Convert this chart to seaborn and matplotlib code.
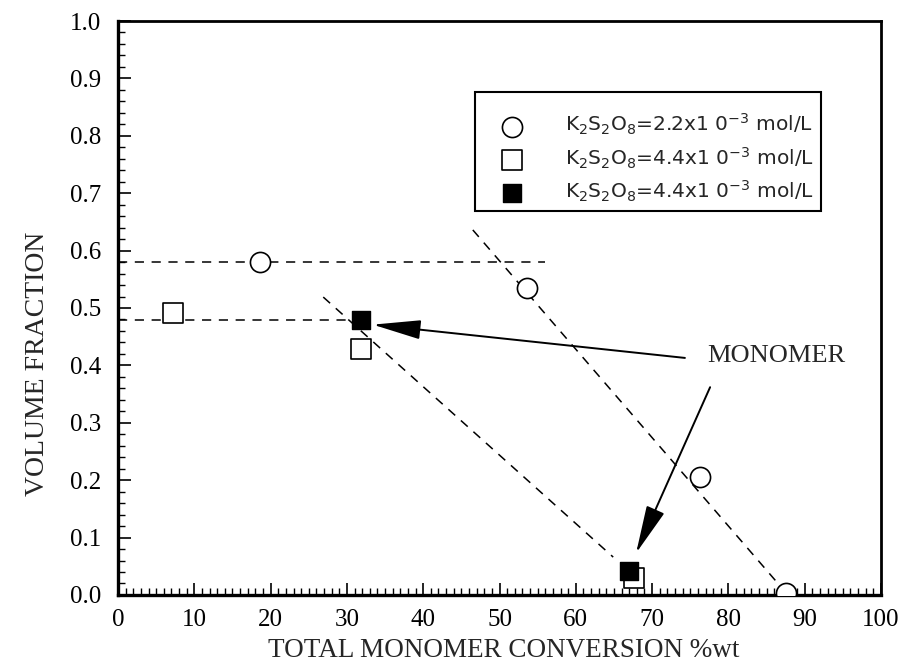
import matplotlib
matplotlib.use('Agg')
import matplotlib.pyplot as plt
import seaborn as sns
import pandas as pd
from matplotlib.ticker import MultipleLocator, FormatStrFormatter

# values
circ_x = [18.6, 53.6, 76.3, 87.5]
circ_y = [0.580, 0.535, 0.206, 0.003]
sq_x = [7.2, 31.8, 67.6]
sq_y = [0.491, 0.428, 0.030]
fsq_x = [31.8, 67.0]
fsq_y = [0.479, 0.042]

# dashed guide lines (end points)
guide_x = [[0, 56.0], [0, 31.8], [46.5, 87.8], [26.9, 64.9]]
guide_y = [[0.580, 0.580], [0.479, 0.479], [0.636, 0.0], [0.519, 0.066]]

labels = [r'K$_2$S$_2$O$_8$=2.2x1 0$^{-3}$ mol/L',
          r'K$_2$S$_2$O$_8$=4.4x1 0$^{-3}$ mol/L',
          r'K$_2$S$_2$O$_8$=4.4x1 0$^{-3}$ mol/L']

# arrows: tail -> tip
arrow_tail = [(74.3, 0.413), (77.6, 0.362)]
arrow_tip = [(33.4, 0.471), (67.9, 0.073)]

sns.set_theme(style='ticks')
plt.rcParams['font.family'] = ['Liberation Serif', 'DejaVu Serif']
plt.rcParams['mathtext.fontset'] = 'dejavusans'

fig = plt.figure(figsize=(9.05, 6.71), dpi=100)
ax = fig.add_axes([0.1304, 0.1133, 0.8431, 0.8554])

for gx, gy in zip(guide_x, guide_y):
    sns.lineplot(x=gx, y=gy, ax=ax, color='black', lw=1.1, linestyle=(0, (6, 5)),
                 estimator=None, sort=False)

df_c = pd.DataFrame({'x': circ_x, 'y': circ_y})
df_s = pd.DataFrame({'x': sq_x, 'y': sq_y})
df_f = pd.DataFrame({'x': fsq_x, 'y': fsq_y})

sns.scatterplot(data=df_c, x='x', y='y', ax=ax, marker='o', s=210, facecolor='white',
                edgecolor='black', linewidth=1.2, label=labels[0], zorder=3)
sns.scatterplot(data=df_s, x='x', y='y', ax=ax, marker='s', s=200, facecolor='white',
                edgecolor='black', linewidth=1.2, label=labels[1], zorder=3)
sns.scatterplot(data=df_f, x='x', y='y', ax=ax, marker='s', s=150, facecolor='black',
                edgecolor='black', linewidth=1.0, label=labels[2], zorder=4)

for tail, tip in zip(arrow_tail, arrow_tip):
    ax.annotate('', xy=tip, xytext=tail,
                arrowprops=dict(arrowstyle='-|>,head_length=1.5,head_width=0.3',
                                color='black', lw=1.4, mutation_scale=20,
                                shrinkA=0, shrinkB=0))

ax.text(77.2, 0.416, 'MONOMER', fontsize=19, va='center', ha='left')

ax.set_xlim(0, 100)
ax.set_ylim(0, 1.0)
ax.xaxis.set_major_locator(MultipleLocator(10))
ax.xaxis.set_minor_locator(MultipleLocator(1))
ax.yaxis.set_major_locator(MultipleLocator(0.1))
ax.yaxis.set_minor_locator(MultipleLocator(0.02))
ax.yaxis.set_major_formatter(FormatStrFormatter('%.1f'))
ax.tick_params(which='both', direction='in', top=False, right=False, labelsize=18,
               colors='black')
ax.tick_params(which='major', length=9, width=1.2)
ax.tick_params(which='minor', length=5, width=1.0)
ax.tick_params(axis='y', pad=12)
ax.tick_params(axis='x', pad=10)

for side in ['left', 'bottom']:
    ax.spines[side].set_linewidth(2.4)
for side in ['top', 'right']:
    ax.spines[side].set_linewidth(2.0)
for sp in ax.spines.values():
    sp.set_color('black')

ax.set_xlabel('TOTAL MONOMER CONVERSION %wt', fontsize=19.5)
ax.set_ylabel('VOLUME FRACTION', fontsize=20)
ax.xaxis.set_label_coords(0.505, -0.096)
ax.xaxis.label.set_verticalalignment('center')
ax.yaxis.set_label_coords(-0.106, 0.402)
ax.yaxis.label.set_verticalalignment('center')

leg = ax.legend(loc='upper left', bbox_to_anchor=(0.468, 0.876), frameon=True,
                fancybox=False, edgecolor='black', framealpha=1,
                prop={'family': 'DejaVu Sans', 'size': 14.5},
                handlelength=3.0, handletextpad=1.1, borderpad=0.35,
                labelspacing=0.4, borderaxespad=0, title=' ', title_fontsize=4)
leg.get_frame().set_linewidth(1.5)

fig.savefig('out.png', dpi=100)
